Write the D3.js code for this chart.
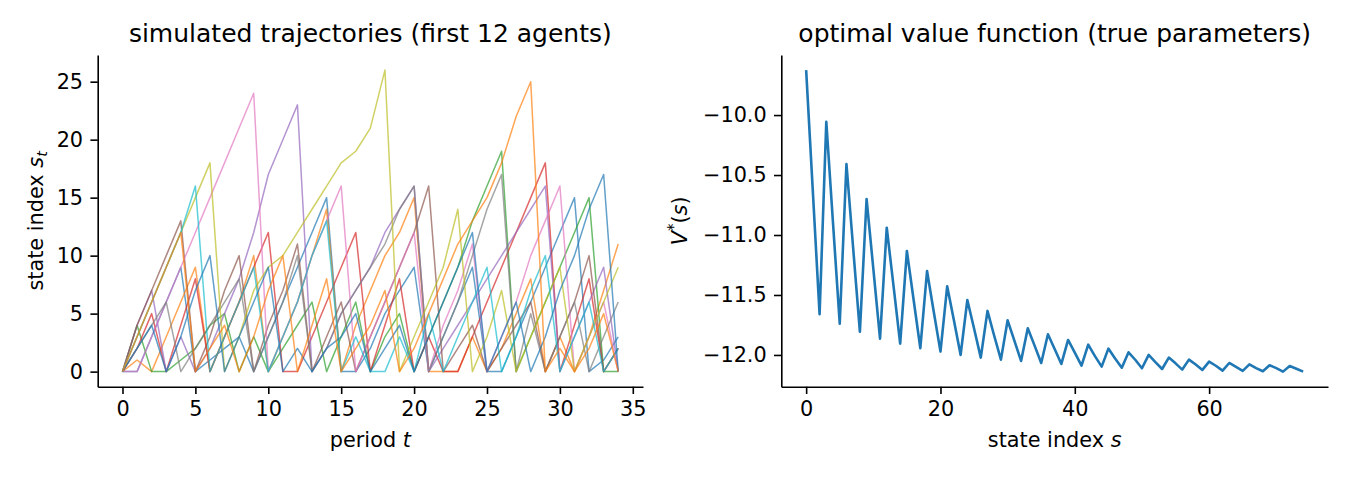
<!DOCTYPE html>
<html>
<head>
<meta charset="utf-8">
<script src="https://cdn.jsdelivr.net/npm/d3@7"></script>
<style>
  body { margin: 0; background: #fff; }
  svg text { font-family: "DejaVu Sans", sans-serif; fill: #000; }
</style>
</head>
<body>
<div id="chart"></div>
<script>
// periods t = 0..34, one row per agent (first 12 agents)
let periods = d3.range(35)
let agentColors = ["#1f77b4", "#ff7f0e", "#2ca02c", "#d62728", "#9467bd", "#8c564b",
                   "#e377c2", "#7f7f7f", "#bcbd22", "#17becf", "#1f77b4", "#ff7f0e"]

let agent0  = [0,0,3,6,9,0,1,2,3,0,3,6,9,12,15,0,0,2,5,7,9,0,3,6,9,0,0,3,6,9,12,15,0,1,3]
let agent1  = [0,1,0,3,6,9,0,3,6,10,0,3,6,10,14,0,4,7,10,12,15,0,0,0,3,0,2,5,8,0,3,0,3,7,11]
let agent2  = [0,4,0,0,1,2,4,5,0,3,0,2,4,6,0,3,6,0,3,5,0,3,6,9,13,16,19,0,3,6,9,12,15,0,0]
let agent3  = [0,2,5,0,4,8,0,3,6,9,12,0,0,3,6,9,12,0,4,8,0,3,0,0,3,6,9,12,15,18,0,4,8,0,2]
let agent4  = [0,4,7,0,3,0,2,5,8,12,17,20,23,0,2,5,7,9,12,14,16,0,2,4,6,8,10,12,14,16,0,3,6,9,0]
let agent5  = [0,4,7,10,13,0,3,7,10,0,4,7,11,0,3,6,0,3,6,9,12,16,0,2,4,0,2,4,6,0,3,6,10,0,2]
let agent6  = [0,0,3,6,9,12,15,18,21,24,0,3,6,10,13,16,0,3,6,9,12,0,4,7,11,0,3,6,10,13,16,0,3,6,0]
let agent7  = [0,2,4,6,0,2,4,6,8,0,3,6,10,0,2,5,7,9,11,14,16,0,3,6,10,14,17,0,5,0,3,6,0,3,6]
let agent8  = [0,3,6,9,12,15,18,0,3,7,9,10,12,14,16,18,19,21,26,0,3,6,9,14,0,3,7,0,3,6,9,0,3,6,9]
let agent9  = [0,3,6,9,12,16,0,3,6,9,0,3,6,10,13,0,3,0,0,3,0,5,0,3,6,9,0,3,7,10,0,3,6,0,2]
let agent10 = [0,2,4,0,3,7,10,0,3,6,9,0,2,0,2,3,5,0,2,4,0,3,6,9,12,0,3,6,0,3,7,10,14,17,0]
let agent11 = [0,3,6,9,12,0,2,4,0,3,7,10,0,4,8,0,2,4,7,0,2,5,8,11,13,15,18,22,25,0,2,0,2,5,0]
let trajectories = [agent0, agent1, agent2, agent3, agent4, agent5,
                    agent6, agent7, agent8, agent9, agent10, agent11]

// optimal value function V*(s), s = 0..74
let states = d3.range(75)
let valueFn = [-9.625,-10.64,-11.661,-10.056,-10.90,-11.739,-10.408,-11.11,-11.806,
  -10.70,-11.28,-11.864,-10.939,-11.42,-11.906,-11.133,-11.54,-11.944,-11.30,-11.64,-11.972,
  -11.428,-11.71,-12.0,-11.542,-11.78,-12.022,-11.633,-11.84,-12.039,-11.711,-11.88,-12.05,
  -11.778,-11.92,-12.067,-11.828,-11.95,-12.075,-11.875,-11.98,-12.089,-11.914,-12.01,-12.097,
  -11.947,-12.03,-12.106,-11.978,-12.04,-12.111,-12.0,-12.06,-12.117,-12.022,-12.07,-12.122,
  -12.039,-12.08,-12.125,-12.056,-12.09,-12.131,-12.067,-12.10,-12.133,-12.078,-12.11,-12.136,
  -12.086,-12.11,-12.139,-12.092,-12.115,-12.139]

let leftXTicks = [0,5,10,15,20,25,30,35]
let leftYTicks = [0,5,10,15,20,25]
let rightXTicks = [0,20,40,60]
let rightYTicks = [-12.0,-11.5,-11.0,-10.5,-10.0]

let w = 1350
let h = 480
let axTop = 55, axBottom = 386.7
let tickLen = 7.3, tickPad = 7.3

let svg = d3.select("#chart")
  .append("svg")
  .attr("width", w)
  .attr("height", h)

let pad = (ext, f) => {
  let d = (ext[1] - ext[0]) * f
  return [ext[0] - d, ext[1] + d]
}

let styleAxis = g => {
  g.selectAll(".domain").attr("stroke", "#000").attr("stroke-width", 1.6)
  g.selectAll(".tick line").attr("stroke", "#000").attr("stroke-width", 1.6)
  g.selectAll(".tick text").attr("font-size", 20.8).attr("font-family", "DejaVu Sans")
}

// ---------- left panel ----------
let L = { x0: 97.7, x1: 643 }
let xL = d3.scaleLinear().domain(pad([0, 34], 0.05)).range([L.x0, L.x1])
let yL = d3.scaleLinear().domain(pad([0, 26], 0.05)).range([axBottom, axTop])

let line = d3.line()
  .x((d, i) => xL(periods[i]))
  .y(d => yL(d))

svg.append("g")
  .selectAll("path")
  .data(trajectories)
  .enter()
  .append("path")
  .attr("d", d => line(d))
  .attr("fill", "none")
  .attr("stroke", (d, i) => agentColors[i])
  .attr("stroke-width", 1.5)
  .attr("stroke-opacity", 0.7)
  .attr("stroke-linejoin", "round")

svg.append("g")
  .attr("transform", "translate(0," + axBottom + ")")
  .call(d3.axisBottom(xL).tickValues(leftXTicks).tickSizeInner(tickLen).tickSizeOuter(0).tickPadding(tickPad))
  .call(styleAxis)

svg.append("g")
  .attr("transform", "translate(" + L.x0 + ",0)")
  .call(d3.axisLeft(yL).tickValues(leftYTicks).tickSizeInner(tickLen).tickSizeOuter(0).tickPadding(tickPad))
  .call(styleAxis)

svg.append("text")
  .attr("x", (L.x0 + L.x1) / 2).attr("y", 42)
  .attr("text-anchor", "middle").attr("font-size", 25)
  .text("simulated trajectories (first 12 agents)")

let xlabL = svg.append("text")
  .attr("x", (L.x0 + L.x1) / 2).attr("y", 447)
  .attr("text-anchor", "middle").attr("font-size", 20.8)
xlabL.append("tspan").text("period ")
xlabL.append("tspan").attr("font-style", "italic").text("t")

let ylabL = svg.append("text")
  .attr("transform", "translate(43," + (axTop + axBottom) / 2 + ") rotate(-90)")
  .attr("text-anchor", "middle").attr("font-size", 20.8)
ylabL.append("tspan").text("state index ")
ylabL.append("tspan").attr("font-style", "italic").text("s")
ylabL.append("tspan").attr("font-style", "italic").attr("font-size", 14.5).attr("dy", 4).text("t")

// ---------- right panel ----------
let R = { x0: 781.3, x1: 1328 }
let xR = d3.scaleLinear().domain(pad(d3.extent(states), 0.05)).range([R.x0, R.x1])
let yR = d3.scaleLinear().domain(pad(d3.extent(valueFn), 0.05)).range([axBottom, axTop])

let vLine = d3.line()
  .x((d, i) => xR(states[i]))
  .y(d => yR(d))

svg.append("path")
  .attr("d", vLine(valueFn))
  .attr("fill", "none")
  .attr("stroke", "#1f77b4")
  .attr("stroke-width", 2.6)
  .attr("stroke-linejoin", "round")

svg.append("g")
  .attr("transform", "translate(0," + axBottom + ")")
  .call(d3.axisBottom(xR).tickValues(rightXTicks).tickSizeInner(tickLen).tickSizeOuter(0).tickPadding(tickPad))
  .call(styleAxis)

svg.append("g")
  .attr("transform", "translate(" + R.x0 + ",0)")
  .call(d3.axisLeft(yR).tickValues(rightYTicks).tickSizeInner(tickLen).tickSizeOuter(0).tickPadding(tickPad)
    .tickFormat(d => d3.format(".1f")(d).replace("-", "\u2212")))
  .call(styleAxis)

svg.append("text")
  .attr("x", (R.x0 + R.x1) / 2).attr("y", 42)
  .attr("text-anchor", "middle").attr("font-size", 25)
  .text("optimal value function (true parameters)")

let xlabR = svg.append("text")
  .attr("x", (R.x0 + R.x1) / 2).attr("y", 447)
  .attr("text-anchor", "middle").attr("font-size", 20.8)
xlabR.append("tspan").text("state index ")
xlabR.append("tspan").attr("font-style", "italic").text("s")

let ylabR = svg.append("text")
  .attr("transform", "translate(687," + (axTop + axBottom) / 2 + ") rotate(-90)")
  .attr("text-anchor", "middle").attr("font-size", 20.8)
ylabR.append("tspan").attr("font-style", "italic").text("V")
ylabR.append("tspan").attr("font-size", 15).attr("dy", -8).text("*")
ylabR.append("tspan").attr("dy", 8).text("(")
ylabR.append("tspan").attr("font-style", "italic").text("s")
ylabR.append("tspan").text(")")
</script>
</body>
</html>
